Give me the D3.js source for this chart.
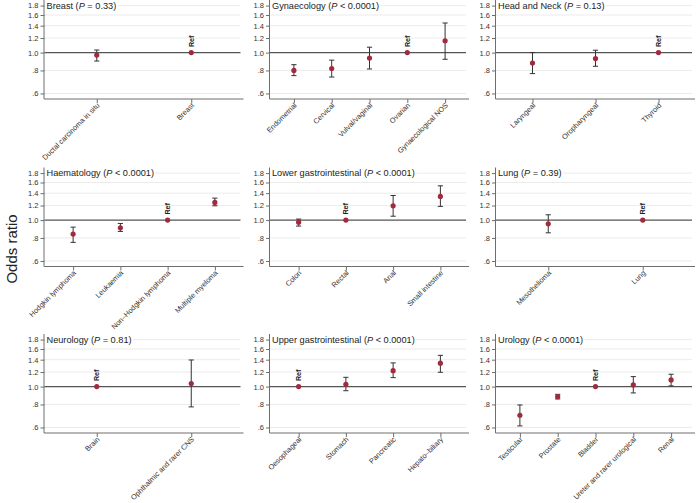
<!DOCTYPE html>
<html>
<head>
<meta charset="utf-8">
<script src="https://cdn.jsdelivr.net/npm/d3@7"></script>
<style>
  html, body { margin: 0; padding: 0; background: #fff; }
  svg { display: block; font-family: "Liberation Sans", Arial, Helvetica, sans-serif; }
</style>
</head>
<body>
<svg id="chart" width="697" height="503"></svg>
<script>
// ---------------- DATA ----------------
const panelNames = ["Breast", "Gynaecology", "Head and Neck",
                    "Haematology", "Lower gastrointestinal", "Lung",
                    "Neurology", "Upper gastrointestinal", "Urology"];
const pLabels = ["= 0.33", "< 0.0001", "= 0.13",
                 "< 0.0001", "< 0.0001", "= 0.39",
                 "= 0.81", "< 0.0001", "< 0.0001"];
const categories = [
  ["Ductal carcinoma in situ", "Breast"],
  ["Endometrial", "Cervical", "Vulval/vaginal", "Ovarian", "Gynaecological NOS"],
  ["Laryngeal", "Oropharyngeal", "Thyroid"],
  ["Hodgkin lymphoma", "Leukaemia", "Non\u2013Hodgkin lymphoma", "Multiple myeloma"],
  ["Colon", "Rectal", "Anal", "Small intestine"],
  ["Mesothelioma", "Lung"],
  ["Brain", "Ophthalmic and rarer CNS"],
  ["Oesophageal", "Stomach", "Pancreatic", "Hepato\u2013biliary"],
  ["Testicular", "Prostate", "Bladder", "Ureter and rarer urological", "Renal"]
];
const oddsRatios = [
  [0.97, 1.00],
  [0.80, 0.82, 0.935, 1.00, 1.16],
  [0.878, 0.928, 1.00],
  [0.84, 0.908, 1.00, 1.247],
  [0.975, 1.00, 1.196, 1.345],
  [0.955, 1.00],
  [1.00, 1.038],
  [1.00, 1.029, 1.22, 1.34],
  [0.699, 0.882, 1.00, 1.021, 1.087]
];
const ciLow = [
  [0.90, null],
  [0.75, 0.737, 0.815, null, 0.92],
  [0.769, 0.843, null],
  [0.757, 0.868, null, 1.196],
  [0.928, null, 1.05, 1.187],
  [0.853, null],
  [null, 0.776],
  [null, 0.95, 1.119, 1.196],
  [0.612, 0.857, null, 0.924, 1.009]
];
const ciHigh = [
  [1.033, null],
  [0.86, 0.91, 1.07, null, 1.448],
  [1.00, 1.03, null],
  [0.916, 0.959, null, 1.316],
  [1.013, null, 1.36, 1.535],
  [1.069, null],
  [null, 1.395],
  [null, 1.123, 1.345, 1.478],
  [0.795, 0.908, null, 1.133, 1.167]
];
const refCategory = ["Breast", "Ovarian", "Thyroid", "Non\u2013Hodgkin lymphoma",
                     "Rectal", "Lung", "Brain", "Oesophageal", "Bladder"];
const yTicks = [0.6, 0.8, 1.0, 1.2, 1.4, 1.6, 1.8];
const yTickLabels = [".6", ".8", "1.0", "1.2", "1.4", "1.6", "1.8"];
const yTitle = "Odds ratio";

// ---------------- LAYOUT ----------------
const colX = [44.5, 270, 496];
const rowY = [0, 167.5, 334];
const plotW = 199, plotH = 99;
const yDomain = [0.56, 1.93];
const markerColor = "#a12a3c";
const axisColor = "#6e6e6e";
const gridColor = "#e6e6e6";

const svg = d3.select("#chart");

panelNames.forEach((name, i) => {
  const x0 = colX[i % 3], y0 = rowY[Math.floor(i / 3)];
  const g = svg.append("g").attr("transform", `translate(${x0},${y0})`);
  const y = d3.scaleLog().domain(yDomain).range([plotH, 0]);
  const x = d3.scalePoint().domain(categories[i]).range([5, plotW - 5]).padding(0.5);

  // grid lines
  g.selectAll("line.grid").data(yTicks.filter(t => t !== 1.0)).enter()
    .append("line").attr("class", "grid")
    .attr("x1", 0).attr("x2", plotW - 3)
    .attr("y1", d => y(d)).attr("y2", d => y(d))
    .attr("stroke", gridColor).attr("stroke-width", 0.8);

  // reference line at 1
  g.append("line")
    .attr("x1", 0).attr("x2", plotW - 3)
    .attr("y1", y(1)).attr("y2", y(1))
    .attr("stroke", "#555").attr("stroke-width", 1.2);

  // y axis
  const yAxis = d3.axisLeft(y).tickValues(yTicks)
    .tickFormat((d, k) => yTickLabels[k]).tickSize(4).tickPadding(2);
  const ya = g.append("g").call(yAxis);
  ya.select(".domain").attr("stroke", axisColor).attr("d", `M-0.5,0V${plotH}`);
  ya.selectAll(".tick line").attr("stroke", axisColor);
  ya.selectAll(".tick text").attr("font-size", 7.5).attr("fill", "#333")
    .attr("font-family", "Liberation Sans, Arial, sans-serif");

  // x axis
  const xAxis = d3.axisBottom(x).tickSize(4).tickFormat("");
  const xa = g.append("g").attr("transform", `translate(0,${plotH})`).call(xAxis);
  xa.select(".domain").attr("stroke", axisColor).attr("d", `M-0.5,0H${plotW}`);
  xa.selectAll(".tick line").attr("stroke", axisColor);

  // category labels rotated
  g.selectAll("text.cat").data(categories[i]).enter()
    .append("text").attr("class", "cat")
    .attr("transform", d => `translate(${x(d) + 1.5},${plotH + 5}) rotate(-45)`)
    .attr("text-anchor", "end").attr("dy", "0.35em")
    .attr("font-size", 7.3).attr("fill", "#333")
    .text(d => d);

  // panel data
  const rows = categories[i].map((c, k) => ({
    cat: c, or: oddsRatios[i][k], lo: ciLow[i][k], hi: ciHigh[i][k]
  }));

  // error bars
  const eb = rows.filter(r => r.lo !== null && r.hi !== null);
  g.selectAll("line.eb").data(eb).enter().append("line")
    .attr("x1", d => x(d.cat)).attr("x2", d => x(d.cat))
    .attr("y1", d => y(d.lo)).attr("y2", d => y(d.hi))
    .attr("stroke", "#333").attr("stroke-width", 1);
  ["lo", "hi"].forEach(key => {
    g.selectAll("line.cap" + key).data(eb).enter().append("line")
      .attr("x1", d => x(d.cat) - 2.6).attr("x2", d => x(d.cat) + 2.6)
      .attr("y1", d => y(d[key])).attr("y2", d => y(d[key]))
      .attr("stroke", "#333").attr("stroke-width", 1);
  });

  // markers
  g.selectAll("circle.pt").data(rows).enter().append("circle")
    .attr("cx", d => x(d.cat)).attr("cy", d => y(d.or)).attr("r", 2.6)
    .attr("fill", markerColor);

  // Ref label
  const rc = refCategory[i];
  g.append("text")
    .attr("transform", `translate(${x(rc) + 2.6},${y(1) - 5.5}) rotate(-90)`)
    .attr("font-size", 7.2).attr("font-weight", "bold").attr("fill", "#222")
    .text("Ref");

  // panel title with white background
  const tg = g.append("g");
  const bg = tg.append("rect").attr("fill", "#fff");
  const t = tg.append("text")
    .attr("x", 2).attr("y", y(1.8)).attr("dy", "0.35em")
    .attr("font-size", 9.2).attr("fill", "#222");
  t.append("tspan").text(name + " (");
  t.append("tspan").attr("font-style", "italic").text("P");
  t.append("tspan").text(" " + pLabels[i] + ")");
  const bb = t.node().getBBox();
  bg.attr("x", 0.5).attr("y", bb.y).attr("width", bb.width + 3).attr("height", bb.height);
});

// y title
svg.append("text")
  .attr("transform", `translate(17,249) rotate(-90)`)
  .attr("text-anchor", "middle")
  .attr("font-size", 15).attr("fill", "#222")
  .text(yTitle);
</script>
</body>
</html>
